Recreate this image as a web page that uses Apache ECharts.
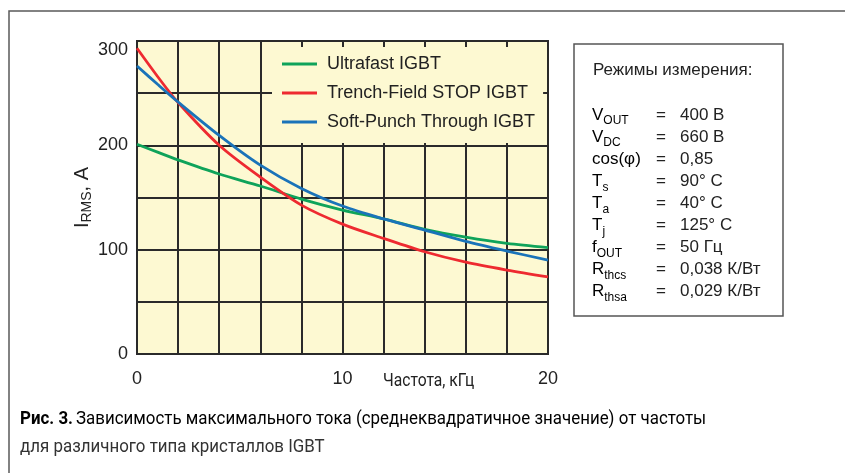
<!DOCTYPE html>
<html>
<head>
<meta charset="utf-8">
<script src="https://cdn.jsdelivr.net/npm/echarts@6/dist/echarts.min.js"></script>
<style>
  html, body { margin: 0; padding: 0; background: #ffffff; }
  #chart { width: 845px; height: 473px; }
</style>
</head>
<body>
<div id="chart"></div>
<script>
// Frequency, kHz
const freqKHz = [0, 1, 2, 4, 6, 8, 10, 12, 14, 16, 18, 20];
// Maximum RMS current, A
const ultrafastIGBT = [201, 193.5, 186, 172.5, 161, 148.5, 138, 129.5, 119.5, 112, 106, 102];
const trenchFieldStopIGBT = [293, 266, 241, 200, 169.5, 142.7, 124.5, 110.8, 98, 88, 80.5, 74];
const softPunchThroughIGBT = [276, 258.5, 241.5, 209.5, 181, 158.7, 141.8, 129.5, 118.8, 108, 98.7, 90];

const seriesNames = ['Ultrafast IGBT', 'Trench-Field STOP IGBT', 'Soft-Punch Through IGBT'];
const xTickLabels = [0, 10, 20];
const yTickLabels = [0, 100, 200, 300];

// Measurement conditions panel
const condTitle = 'Режимы измерения:';
const condNames = ['{m|V}{s|OUT}', '{m|V}{s|DC}', '{m|cos(φ)}', '{m|T}{s|s}', '{m|T}{s|a}', '{m|T}{s|j}', '{m|f}{s|OUT}', '{m|R}{s|thcs}', '{m|R}{s|thsa}'];
const condValues = ['400 В', '660 В', '0,85', '90° C', '40° C', '125° C', '50 Гц', '0,038 К/Вт', '0,029 К/Вт'];

const captionBold = 'Рис. 3.';
const captionLine1 = 'Зависимость максимального тока (среднеквадратичное значение) от частоты';
const captionLine2 = 'для различного типа кристаллов IGBT';

const colors = ['#0fa35a', '#ee2a30', '#1a73b9'];
const FONT = '"Liberation Sans", Arial, sans-serif';
const NARROW = 'Roboto, sans-serif';

function pairs(ys) { return freqKHz.map((f, i) => [f, ys[i]]); }

const chart = echarts.init(document.getElementById('chart'), null, { renderer: 'canvas' });

const graphics = [];
// outer frame (top and left rules)
graphics.push({
  type: 'polyline', silent: true, z: 1,
  shape: { points: [[9, 480], [9, 11], [850, 11]] },
  style: { stroke: '#5a5a5a', lineWidth: 1.5, fill: null }
});
// conditions box
graphics.push({
  type: 'rect', silent: true, z: 1,
  shape: { x: 574, y: 44, width: 209, height: 272 },
  style: { stroke: '#555', lineWidth: 1.5, fill: '#fff' }
});
graphics.push({
  type: 'text', silent: true, z: 2, x: 593, y: 70,
  style: { text: condTitle, font: '17px ' + FONT, fill: '#222', verticalAlign: 'middle' }
});
const richName = {
  m: { fontSize: 17, fontFamily: FONT, color: '#222', lineHeight: 22, verticalAlign: 'middle' },
  s: { fontSize: 12, fontFamily: FONT, color: '#222', lineHeight: 12, padding: [12, 0, 0, 0], verticalAlign: 'middle' }
};
condNames.forEach((n, i) => {
  const y = 115 + i * 22.1;
  graphics.push({
    type: 'text', silent: true, z: 2, x: 592, y: y,
    style: { text: n, rich: richName, verticalAlign: 'middle' }
  });
  graphics.push({
    type: 'text', silent: true, z: 2, x: 656, y: y,
    style: { text: '=', font: '17px ' + FONT, fill: '#222', verticalAlign: 'middle' }
  });
  graphics.push({
    type: 'text', silent: true, z: 2, x: 680, y: y,
    style: { text: condValues[i], font: '17px ' + FONT, fill: '#222', verticalAlign: 'middle' }
  });
});
// x-axis caption
graphics.push({
  type: 'text', silent: true, z: 2, x: 383, y: 381, scaleX: 0.87,
  style: { text: 'Частота, кГц', font: '18px ' + NARROW, fill: '#222', verticalAlign: 'middle' }
});
// figure caption
graphics.push({
  type: 'text', silent: true, z: 2, x: 20, y: 419, scaleX: 0.89,
  style: {
    text: '{b|' + captionBold + '} {r|' + captionLine1 + '}',
    rich: {
      b: { fontSize: 19, fontFamily: NARROW, fontWeight: 'bold', color: '#222' },
      r: { fontSize: 19, fontFamily: NARROW, color: '#333' }
    },
    verticalAlign: 'middle'
  }
});
graphics.push({
  type: 'text', silent: true, z: 2, x: 20, y: 447, scaleX: 0.89,
  style: { text: captionLine2, font: '19px ' + NARROW, fill: '#333', verticalAlign: 'middle' }
});

const option = {
  animation: false,
  backgroundColor: '#ffffff',
  color: colors,
  grid: {
    left: 137, top: 41, right: 297, bottom: 119,
    show: true, backgroundColor: '#fdf9d2', borderColor: '#2a2a2a', borderWidth: 2
  },
  legend: {
    orient: 'vertical', left: 272, top: 47,
    data: seriesNames,
    icon: 'rect', itemWidth: 35, itemHeight: 3, itemGap: 11,
    padding: [8, 8, 12, 10],
    backgroundColor: '#fdf9d2',
    textStyle: { fontSize: 18, fontFamily: FONT, color: '#222', padding: [0, 0, 0, 5] }
  },
  xAxis: {
    type: 'value', min: 0, max: 20, interval: 2,
    axisLine: { show: false }, axisTick: { show: false },
    splitLine: { show: true, lineStyle: { color: '#2a2a2a', width: 2 } },
    axisLabel: {
      fontSize: 18, fontFamily: FONT, color: '#222', margin: 16,
      formatter: v => (xTickLabels.indexOf(v) >= 0 ? String(v) : '')
    }
  },
  yAxis: {
    type: 'value', min: 0, max: 300, interval: 50,
    axisLine: { show: false }, axisTick: { show: false },
    splitLine: { show: true, lineStyle: { color: '#2a2a2a', width: 2 } },
    axisLabel: {
      fontSize: 18, fontFamily: FONT, color: '#222', margin: 9,
      verticalAlignMaxLabel: 'top',
      formatter: v => (yTickLabels.indexOf(v) >= 0 ? String(v) : '')
    },
    name: '{a|I}{b|RMS}{a|, A}',
    nameLocation: 'middle', nameGap: 41, nameRotate: 90,
    nameTextStyle: {
      rich: {
        a: { fontSize: 20, fontFamily: FONT, color: '#222', lineHeight: 24, verticalAlign: 'middle' },
        b: { fontSize: 14, fontFamily: FONT, color: '#222', lineHeight: 14, padding: [10, 0, 0, 0], verticalAlign: 'middle' }
      }
    }
  },
  series: [
    { name: seriesNames[0], type: 'line', data: pairs(ultrafastIGBT) },
    { name: seriesNames[1], type: 'line', data: pairs(trenchFieldStopIGBT) },
    { name: seriesNames[2], type: 'line', data: pairs(softPunchThroughIGBT) }
  ].map(s => Object.assign(s, {
    smooth: 0.3, symbol: 'none', clip: true,
    lineStyle: { width: 2.8 }, z: 3
  })),
  graphic: graphics
};
chart.setOption(option);
</script>
</body>
</html>
